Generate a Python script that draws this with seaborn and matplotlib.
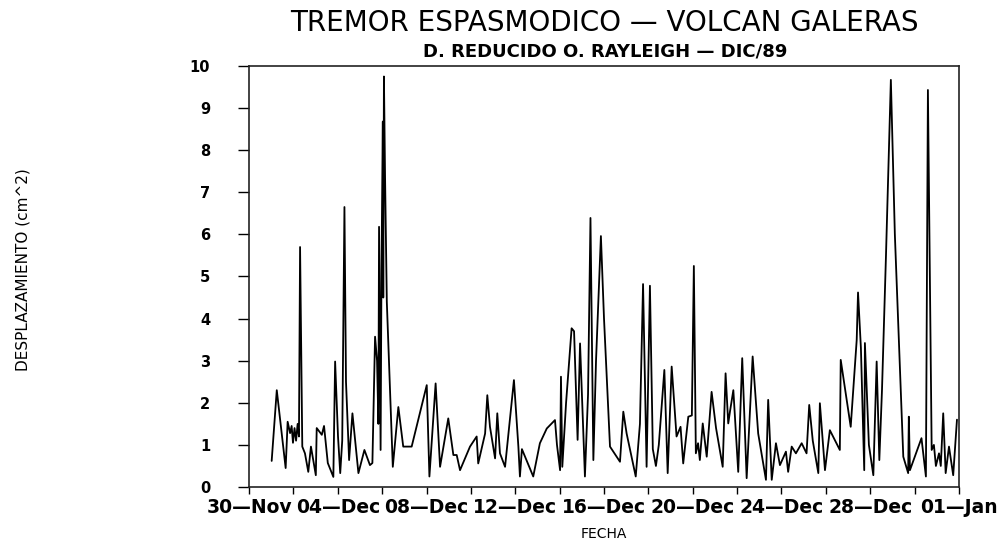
import pandas as pd
import matplotlib
matplotlib.use("Agg")
import matplotlib.pyplot as plt
import matplotlib.dates as mdates
import seaborn as sns

# Reduced displacement readings
# offset = days after 30-Nov-1989, value = cm^2
day_offset = [
    1.02, 1.25, 1.65, 1.74, 1.85, 1.92, 1.98, 2.05, 2.12, 2.19, 2.25, 2.30, 2.34, 2.40,
    2.52, 2.67, 2.79, 3.01, 3.05, 3.28, 3.38, 3.55, 3.80, 3.88, 4.01, 4.11, 4.20, 4.30,
    4.37, 4.51, 4.66, 4.93, 5.20, 5.45, 5.56, 5.68, 5.77, 5.83, 5.86, 5.93, 5.97, 6.03,
    6.05, 6.08, 6.13, 6.21, 6.48, 6.73, 6.95, 7.33, 8.01, 8.13, 8.41, 8.61, 8.98, 9.21,
    9.36, 9.51, 9.96, 10.26, 10.33, 10.64, 10.74, 10.86, 11.09, 11.19, 11.31, 11.54,
    11.94, 12.14, 12.21, 12.30, 12.81, 13.11, 13.42, 13.79, 13.88, 14.02, 14.06, 14.12,
    14.29, 14.54, 14.65, 14.81, 14.92, 15.14, 15.28, 15.39, 15.52, 15.64, 15.86, 16.00,
    16.27, 16.72, 16.87, 17.02, 17.43, 17.62, 17.76, 17.92, 18.07, 18.20, 18.34, 18.47,
    18.72, 18.87, 19.05, 19.27, 19.45, 19.57, 19.80, 19.96, 20.05, 20.14, 20.24, 20.32,
    20.45, 20.63, 20.85, 21.05, 21.35, 21.48, 21.60, 21.68, 21.83, 22.05, 22.23, 22.43,
    22.70, 22.95, 23.30, 23.40, 23.56, 23.75, 23.93, 24.20, 24.30, 24.46, 24.65, 24.91,
    25.13, 25.25, 25.41, 25.66, 25.73, 25.96, 26.18, 26.63, 26.67, 27.12, 27.39, 27.45,
    27.58, 27.73, 27.76, 27.94, 28.14, 28.29, 28.41, 28.53, 28.71, 28.93, 29.11, 29.49,
    29.71, 29.74, 29.79, 30.31, 30.51, 30.60, 30.77, 30.87, 30.96, 31.10, 31.18, 31.29,
    31.40, 31.55, 31.74, 31.91,
]
desplazamiento = [
    0.62, 2.30, 0.45, 1.55, 1.28, 1.45, 1.05, 1.40, 1.10, 1.50, 1.20, 5.70, 3.80, 0.96,
    0.80, 0.36, 0.96, 0.28, 1.40, 1.24, 1.45, 0.57, 0.24, 2.98, 1.20, 0.33, 1.10, 6.65,
    2.50, 0.64, 1.75, 0.33, 0.88, 0.52, 0.57, 3.57, 3.00, 1.50, 6.18, 0.88, 5.20, 8.68,
    4.50, 9.75, 7.40, 4.40, 0.48, 1.90, 0.96, 0.96, 2.42, 0.25, 2.46, 0.48, 1.63, 0.76,
    0.76, 0.40, 0.96, 1.20, 0.56, 1.27, 2.18, 1.43, 0.68, 1.75, 0.80, 0.48,
    2.54, 0.96, 0.25, 0.90, 0.25, 1.04, 1.39, 1.59, 1.00, 0.40, 2.62, 0.48,
    2.00, 3.77, 3.70, 1.12, 3.41, 0.25, 2.20, 6.39, 0.64, 3.00, 5.96, 4.00,
    0.96, 0.60, 1.79, 1.27, 0.25, 1.50, 4.82, 0.48, 4.78, 0.90, 0.50, 1.00,
    2.78, 0.33, 2.86, 1.20, 1.43, 0.56, 1.67, 1.70, 5.25, 0.80, 1.04, 0.64,
    1.51, 0.72, 2.26, 1.40, 0.48, 2.70, 1.51, 1.80, 2.30, 0.36, 3.06, 0.21,
    3.10, 1.27, 0.17, 2.07, 0.17, 1.04, 0.52, 0.84, 0.36, 0.96, 0.80, 1.04,
    0.80, 1.95, 1.10, 0.33, 1.99, 0.40, 1.35, 0.88, 3.02, 1.43, 3.49, 4.62,
    3.30, 0.40, 3.42, 1.00, 0.28, 2.98, 0.64, 2.30, 5.50, 9.67, 6.00, 0.72,
    0.33, 1.67, 0.40, 1.16, 0.25, 9.43, 0.88, 1.00, 0.50, 0.80, 0.50, 1.75,
    0.33, 0.96, 0.28, 1.60,
]

start = pd.Timestamp("1989-11-30")
end = pd.Timestamp("1990-01-01")

df = pd.DataFrame({"offset": day_offset, "desp": desplazamiento})
df["fecha"] = start + pd.to_timedelta(df["offset"], unit="D")

sns.set_style("ticks")
plt.rcParams["font.family"] = ["DejaVu Sans"]
plt.rcParams["text.color"] = "black"
plt.rcParams["axes.labelcolor"] = "black"

fig = plt.figure(figsize=(10.03, 5.43), dpi=100)
ax = fig.add_axes([0.2483, 0.1031, 0.7078, 0.7754])

sns.lineplot(data=df, x="fecha", y="desp", ax=ax, color="black", linewidth=1.3)

ax.set_xlim(start, end)
ax.set_ylim(0, 10)
ax.set_yticks(range(0, 11))

# labels every 4 days from 30-Nov, extra ticks every 2 days
major_dates = pd.date_range(start, end, freq="4D")
minor_dates = pd.date_range(start, end, freq="2D")
ax.set_xticks(mdates.date2num(major_dates))
ax.set_xticks(mdates.date2num(minor_dates), minor=True)
ax.xaxis.set_major_formatter(mdates.DateFormatter("%d\u2014%b"))

ax.tick_params(axis="y", direction="out", length=8, width=1, pad=20,
               labelsize=10.5, colors="black")
ax.tick_params(axis="x", which="both", direction="out", length=5, width=1,
               pad=3, labelsize=13.5, colors="black")
for lab in ax.get_yticklabels() + ax.get_xticklabels():
    lab.set_fontweight("bold")

for side in ["left", "right", "top", "bottom"]:
    ax.spines[side].set_visible(True)
    ax.spines[side].set_color("#222222")
    ax.spines[side].set_linewidth(1.2)

ax.set_xlabel("FECHA", fontsize=10, labelpad=7)
ax.set_ylabel("")
fig.text(0.023, 0.503, "DESPLAZAMIENTO (cm^2)", rotation=90, ha="center", va="center",
         fontsize=11)

fig.text(0.603, 0.958, "TREMOR ESPASMODICO \u2014 VOLCAN GALERAS",
         ha="center", va="center", fontsize=20)
fig.text(0.603, 0.905, "D. REDUCIDO O. RAYLEIGH \u2014 DIC/89",
         ha="center", va="center", fontsize=13, fontweight="bold")

fig.savefig("out.png", dpi=100)
